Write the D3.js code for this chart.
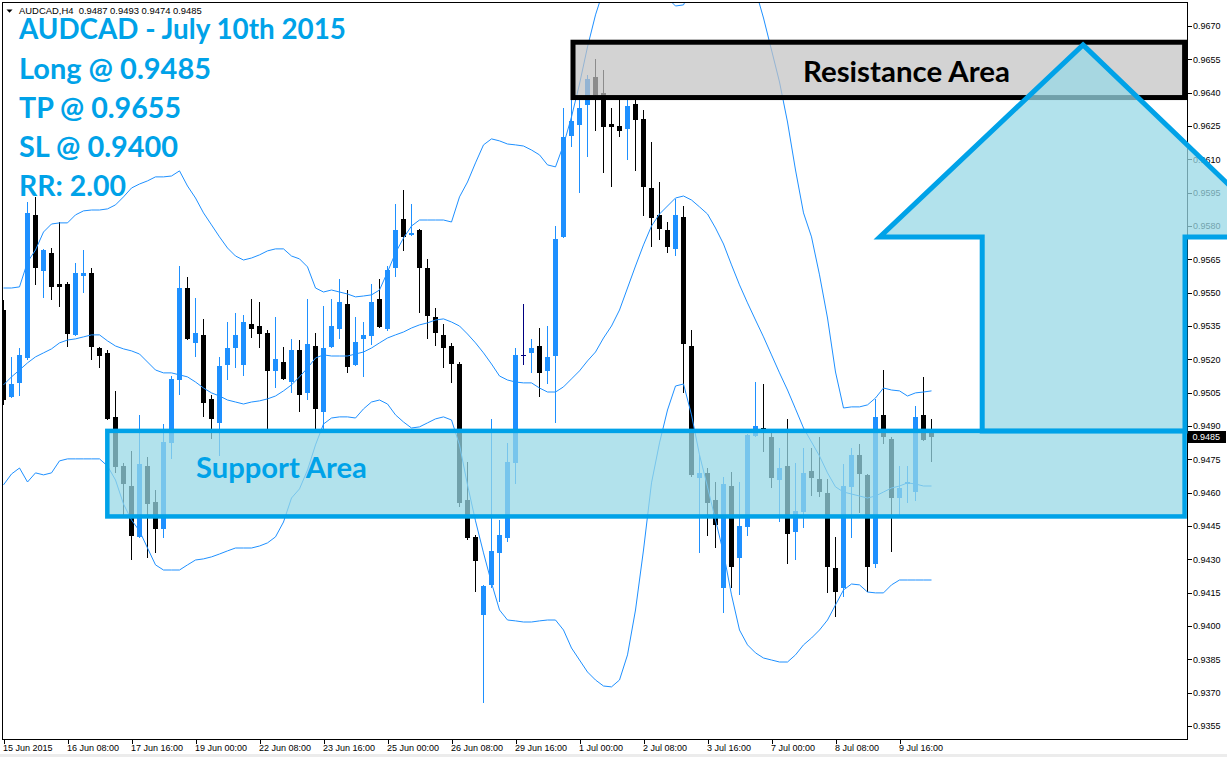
<!DOCTYPE html>
<html><head><meta charset="utf-8">
<script src="https://cdn.jsdelivr.net/npm/d3@7"></script>
<style>body{margin:0;background:#fff;overflow:hidden}svg{display:block}</style>
</head><body>
<svg id="c" width="1227" height="757"></svg>
<script>
// ---------------- DATA ----------------
const symbolInfo = "AUDCAD,H4";
const lastQuote = [0.9487, 0.9493, 0.9474, 0.9485]; // O H L C of current bar
const titleLines = ["AUDCAD - July 10th 2015", "Long @ 0.9485", "TP @ 0.9655", "SL @ 0.9400", "RR: 2.00"];

const openP = [0.95422,0.95031,0.95094,0.95206,0.95850,0.95598,0.95679,0.95539,0.95539,0.95310,
0.95575,0.95589,0.95251,0.95229,0.94941,0.94720,0.94630,0.94401,0.94720,0.94558,
0.94437,0.94824,0.95107,0.95521,0.95274,0.95310,0.95022,0.94914,0.95175,0.95251,
0.95175,0.95359,0.95350,0.95319,0.95148,0.95188,0.95098,0.95242,0.95049,0.95260,
0.94963,0.95256,0.95337,0.95449,0.95175,0.95292,0.95305,0.95472,0.95337,0.95611,
0.95832,0.95760,0.95782,0.95611,0.95391,0.95310,0.95260,0.95179,0.94567,0.94401,
0.94050,0.94184,0.94329,0.94396,0.94734,0.95220,0.95229,0.95260,0.95148,0.95215,
0.95751,0.96205,0.96255,0.96345,0.96471,0.96399,0.96259,0.96250,0.96237,0.96349,
0.96282,0.95971,0.95850,0.95782,0.95697,0.95841,0.95260,0.94666,0.94689,0.94567,
0.94171,0.94630,0.94306,0.94446,0.94855,0.94891,0.94851,0.94657,0.94720,0.94423,
0.94513,0.94698,0.94662,0.94599,0.94261,0.94171,0.94626,0.94770,0.94680,0.94279,
0.94950,0.94842,0.94576,0.94639,0.94603,0.94950,0.94870];
const highP = [0.95467,0.95211,0.95251,0.95908,0.95931,0.95695,0.95701,0.95818,0.95548,0.95634,
0.95692,0.95611,0.95255,0.95242,0.95058,0.94734,0.94788,0.94950,0.94761,0.94612,
0.94909,0.95125,0.95620,0.95571,0.95476,0.95382,0.95040,0.95211,0.95368,0.95409,
0.95400,0.95472,0.95458,0.95332,0.95391,0.95256,0.95292,0.95287,0.95472,0.95319,
0.95440,0.95472,0.95562,0.95512,0.95391,0.95368,0.95539,0.95562,0.95620,0.95899,
0.95962,0.95899,0.95787,0.95652,0.95431,0.95359,0.95274,0.95188,0.94738,0.94410,
0.94185,0.94932,0.94477,0.94824,0.95251,0.95449,0.95292,0.95341,0.95350,0.95800,
0.96331,0.96390,0.96367,0.96480,0.96552,0.96502,0.96331,0.96367,0.96367,0.96367,
0.96322,0.96178,0.95998,0.95818,0.95922,0.95890,0.95332,0.94770,0.94711,0.94648,
0.94671,0.94693,0.94648,0.94864,0.95098,0.95089,0.94869,0.94801,0.94932,0.94734,
0.94801,0.94801,0.94851,0.94662,0.94401,0.94729,0.94801,0.94819,0.94684,0.95022,
0.95152,0.94851,0.94720,0.94720,0.94990,0.95121,0.94930];
const lowP = [0.94995,0.95028,0.95035,0.95197,0.95535,0.95476,0.95467,0.95436,0.95256,0.95305,
0.95499,0.95197,0.95161,0.94927,0.94689,0.94491,0.94297,0.94396,0.94306,0.94329,
0.94396,0.94752,0.95040,0.95287,0.95211,0.94941,0.94842,0.94765,0.95107,0.95161,
0.95125,0.95296,0.95251,0.94887,0.95071,0.95107,0.95049,0.94963,0.95017,0.94869,
0.94882,0.95251,0.95292,0.95139,0.95170,0.95121,0.95265,0.95341,0.95328,0.95571,
0.95688,0.95755,0.95409,0.95292,0.95260,0.95161,0.95094,0.94536,0.94387,0.94153,
0.93654,0.94171,0.94108,0.94378,0.94639,0.95175,0.95139,0.95031,0.95089,0.94914,
0.95746,0.96156,0.95949,0.96111,0.96228,0.96039,0.95976,0.96201,0.96097,0.96048,
0.95845,0.95706,0.95737,0.95679,0.95665,0.95049,0.94671,0.94329,0.94405,0.94351,
0.94059,0.94171,0.94140,0.94405,0.94851,0.94783,0.94621,0.94468,0.94279,0.94297,
0.94441,0.94585,0.94581,0.94149,0.94041,0.94131,0.94396,0.94509,0.94153,0.94261,
0.94819,0.94333,0.94500,0.94554,0.94563,0.94833,0.94740];
const closeP = [0.95017,0.95089,0.95220,0.95859,0.95611,0.95692,0.95526,0.95526,0.95314,0.95589,
0.95589,0.95256,0.95215,0.94932,0.94716,0.94639,0.94405,0.94729,0.94549,0.94437,
0.94828,0.95112,0.95521,0.95292,0.95319,0.95004,0.94932,0.95170,0.95251,0.95310,
0.95368,0.95337,0.95314,0.95148,0.95202,0.95112,0.95242,0.95040,0.95269,0.94977,
0.95251,0.95350,0.95458,0.95166,0.95278,0.95310,0.95458,0.95346,0.95602,0.95782,
0.95751,0.95769,0.95611,0.95395,0.95319,0.95251,0.95179,0.94554,0.94396,0.94293,
0.94180,0.94338,0.94410,0.94738,0.95220,0.95220,0.95251,0.95139,0.95211,0.95742,
0.96201,0.96273,0.96331,0.96462,0.96390,0.96246,0.96246,0.96228,0.96340,0.96277,
0.95976,0.95836,0.95787,0.95706,0.95850,0.95269,0.94680,0.94689,0.94554,0.94455,
0.94639,0.94266,0.94450,0.94860,0.94900,0.94887,0.94666,0.94711,0.94414,0.94518,
0.94689,0.94666,0.94603,0.94266,0.94153,0.94630,0.94770,0.94684,0.94266,0.94941,
0.94851,0.94576,0.94621,0.94648,0.94941,0.94837,0.94850];

const bbUpper = [0.95521,0.95521,0.95526,0.95638,0.95692,0.95773,0.95809,0.95814,0.95814,0.95850,
0.95868,0.95872,0.95872,0.95877,0.95895,0.95931,0.95971,0.95989,0.96003,0.96021,
0.96021,0.96025,0.96048,0.95980,0.95926,0.95859,0.95805,0.95751,0.95701,0.95665,
0.95647,0.95656,0.95670,0.95688,0.95697,0.95697,0.95665,0.95652,0.95616,0.95521,
0.95503,0.95512,0.95503,0.95494,0.95481,0.95485,0.95490,0.95512,0.95593,0.95679,
0.95746,0.95800,0.95827,0.95827,0.95827,0.95827,0.95818,0.95931,0.95998,0.96084,
0.96165,0.96192,0.96183,0.96169,0.96165,0.96160,0.96142,0.96120,0.96075,0.96066,
0.96165,0.96291,0.96439,0.96606,0.96750,0.96862,0.96975,0.97087,0.97173,0.97168,
0.97087,0.96957,0.96885,0.96826,0.96790,0.96795,0.96871,0.97002,0.97083,0.97105,
0.97110,0.97110,0.97087,0.96993,0.96862,0.96736,0.96592,0.96448,0.96268,0.96052,
0.95859,0.95751,0.95580,0.95386,0.95143,0.94981,0.94986,0.94986,0.94995,0.95026,
0.95071,0.95062,0.95058,0.95035,0.95049,0.95053,0.95058];
const bbMiddle = [0.95085,0.95121,0.95152,0.95184,0.95211,0.95229,0.95247,0.95274,0.95287,0.95292,
0.95301,0.95310,0.95310,0.95283,0.95260,0.95247,0.95238,0.95224,0.95188,0.95152,
0.95139,0.95139,0.95130,0.95121,0.95098,0.95071,0.95049,0.95035,0.95017,0.95008,
0.94999,0.95008,0.95013,0.95022,0.95035,0.95058,0.95085,0.95121,0.95161,0.95206,
0.95220,0.95215,0.95215,0.95215,0.95224,0.95233,0.95251,0.95274,0.95296,0.95310,
0.95323,0.95341,0.95355,0.95364,0.95377,0.95382,0.95368,0.95350,0.95314,0.95274,
0.95229,0.95179,0.95125,0.95107,0.95098,0.95094,0.95094,0.95071,0.95053,0.95053,
0.95076,0.95112,0.95148,0.95193,0.95233,0.95296,0.95350,0.95422,0.95521,0.95620,
0.95715,0.95800,0.95854,0.95890,0.95926,0.95935,0.95917,0.95886,0.95854,0.95791,
0.95719,0.95625,0.95535,0.95454,0.95377,0.95301,0.95220,0.95139,0.95062,0.94977,
0.94891,0.94828,0.94765,0.94689,0.94626,0.94603,0.94594,0.94585,0.94576,0.94585,
0.94603,0.94621,0.94630,0.94644,0.94639,0.94630,0.94630];
const bbLower = [0.94635,0.94684,0.94711,0.94648,0.94689,0.94680,0.94689,0.94743,0.94752,0.94752,
0.94752,0.94752,0.94752,0.94720,0.94657,0.94549,0.94477,0.94428,0.94351,0.94275,
0.94252,0.94252,0.94252,0.94275,0.94297,0.94302,0.94311,0.94324,0.94338,0.94351,
0.94351,0.94351,0.94360,0.94374,0.94401,0.94468,0.94576,0.94617,0.94702,0.94815,
0.94909,0.94936,0.94941,0.94941,0.94936,0.94977,0.95008,0.95017,0.94999,0.94950,
0.94918,0.94891,0.94896,0.94914,0.94932,0.94941,0.94927,0.94815,0.94635,0.94473,
0.94329,0.94194,0.94072,0.94027,0.94023,0.94018,0.94018,0.94023,0.94027,0.94027,
0.93982,0.93901,0.93847,0.93793,0.93757,0.93730,0.93726,0.93757,0.93870,0.94072,
0.94342,0.94644,0.94824,0.94972,0.95080,0.95089,0.94950,0.94770,0.94626,0.94477,
0.94329,0.94140,0.93982,0.93915,0.93879,0.93856,0.93847,0.93838,0.93838,0.93870,
0.93915,0.93946,0.93982,0.94027,0.94095,0.94162,0.94189,0.94185,0.94153,0.94149,
0.94149,0.94185,0.94207,0.94207,0.94207,0.94207,0.94207];

const dateLabels = ["15 Jun 2015","16 Jun 08:00","17 Jun 16:00","19 Jun 00:00","22 Jun 08:00",
"23 Jun 16:00","25 Jun 00:00","26 Jun 08:00","29 Jun 16:00","1 Jul 00:00","2 Jul 08:00",
"3 Jul 16:00","7 Jul 00:00","8 Jul 08:00","9 Jul 16:00"];
const dateLabelBar = [0,8,16,24,32,40,48,56,64,72,80,88,96,104,112];
const priceTicks = [0.9670,0.9655,0.9640,0.9625,0.9610,0.9595,0.9580,0.9565,0.9550,0.9535,0.9520,
0.9505,0.9490,0.9475,0.9460,0.9445,0.9430,0.9415,0.9400,0.9385,0.9370,0.9355];

// annotation objects (bar index / price)
const supportZone = {bar0: 13.04, bar1: 147.7, top: 0.94878, bottom: 0.94493, label: "Support Area"};
const resistanceZone = {bar0: 71.25, bar1: 147.7, top: 0.96627, bottom: 0.96378, label: "Resistance Area"};
const arrowPts = [[135,0.96615],[160,0.95751],[147.75,0.95751],[147.75,0.94878],[122.4,0.94878],[122.4,0.95751],[109.6,0.95751]];

// ---------------- DRAW ----------------
const svg = d3.select("#c");
const W = 1227, H = 757;
const L = 3, R = 1187, T = 3, B = 739;
const xs = d3.scaleLinear().domain([0, 148]).range([3, 1187]);
const ys = d3.scaleLinear().domain([0.9355, 0.9670]).range([726, 26]);
const BLUE = "#00a2e8";
const BULL = "#1e90ff";

svg.append("rect").attr("width", W).attr("height", H).attr("fill", "#fff");
svg.append("rect").attr("x", 0).attr("y", 754).attr("width", W).attr("height", 3).attr("fill", "#ececec");

const defs = svg.append("defs");
defs.append("clipPath").attr("id", "plot").append("rect")
  .attr("x", L).attr("y", T).attr("width", R - L).attr("height", B - T);

const plot = svg.append("g").attr("clip-path", "url(#plot)");

// candles
const bars = d3.range(openP.length);
const cg = plot.append("g").attr("shape-rendering", "crispEdges");
bars.forEach(i => {
  const o = openP[i], c = closeP[i], h = highP[i], l = lowP[i];
  const col = c > o ? BULL : (c < o ? "#000" : "#000080");
  const x = Math.round(xs(i));
  cg.append("rect").attr("x", x).attr("width", 1)
    .attr("y", Math.round(ys(h))).attr("height", Math.max(1, Math.round(ys(l)) - Math.round(ys(h))))
    .attr("fill", col);
  const yt = Math.round(ys(Math.max(o, c))), yb = Math.round(ys(Math.min(o, c)));
  cg.append("rect").attr("x", x - 2).attr("width", 5).attr("y", yt)
    .attr("height", c === o ? 1 : Math.max(1, yb - yt)).attr("fill", col);
});

// bollinger bands
const line = d3.line().x((d, i) => xs(i) + 0.5).y(d => ys(d));
[bbUpper, bbMiddle, bbLower].forEach(arr => {
  plot.append("path").datum(arr).attr("d", line).attr("fill", "none")
    .attr("stroke", BULL).attr("stroke-width", 1);
});

// resistance zone
const ov = svg.append("g").attr("clip-path", "url(#plot)");
ov.append("rect")
  .attr("x", xs(resistanceZone.bar0)).attr("y", ys(resistanceZone.top))
  .attr("width", xs(resistanceZone.bar1) - xs(resistanceZone.bar0))
  .attr("height", ys(resistanceZone.bottom) - ys(resistanceZone.top))
  .attr("fill", "rgba(194,194,194,0.72)").attr("stroke", "#000").attr("stroke-width", 5);

// support zone
ov.append("rect")
  .attr("x", xs(supportZone.bar0)).attr("y", ys(supportZone.top))
  .attr("width", xs(supportZone.bar1) - xs(supportZone.bar0))
  .attr("height", ys(supportZone.bottom) - ys(supportZone.top))
  .attr("fill", "rgba(151,216,230,0.74)").attr("stroke", BLUE).attr("stroke-width", 4.5);

function fit(sel, target) {
  const w = sel.node().getComputedTextLength();
  const fs = parseFloat(sel.attr("font-size"));
  sel.attr("font-size", (fs * target / w).toFixed(2));
}
const bigFont = "Lato, 'Open Sans', sans-serif";

const rt = svg.append("text").attr("x", 803).attr("y", 81.5)
  .attr("font-family", bigFont).attr("font-weight", 700).attr("font-size", 27)
  .attr("fill", "#000").text(resistanceZone.label);
fit(rt, 207);
const st = svg.append("text").attr("x", 196).attr("y", 478)
  .attr("font-family", bigFont).attr("font-weight", 700).attr("font-size", 26)
  .attr("fill", BLUE).text(supportZone.label);
fit(st, 171);

// frame
svg.append("rect").attr("x", 2.5).attr("y", 2.5).attr("width", R - 2.5).attr("height", B - 2.5)
  .attr("fill", "none").attr("stroke", "#000").attr("stroke-width", 1).attr("shape-rendering", "crispEdges");

// y axis
const yAxis = d3.axisRight(ys).tickValues(priceTicks).tickFormat(d3.format(".4f")).tickSize(4).tickPadding(2);
const yg = svg.append("g").attr("transform", `translate(${R + 0.5},0)`).call(yAxis);
yg.select(".domain").remove();
yg.selectAll(".tick line").attr("stroke", "#000").attr("shape-rendering", "crispEdges");
yg.selectAll(".tick text").attr("font-family", "'Liberation Sans', Arial, sans-serif")
  .attr("font-size", 9).attr("fill", "#000").attr("x", 5.5);

// x axis
const xAxis = d3.axisBottom(xs).tickValues(dateLabelBar).tickFormat((d, i) => dateLabels[i]).tickSize(4);
const xg = svg.append("g").attr("transform", `translate(0.5,${B + 0.5})`).call(xAxis);
xg.select(".domain").remove();
xg.selectAll(".tick line").attr("stroke", "#000").attr("shape-rendering", "crispEdges");
xg.selectAll(".tick text").attr("font-family", "'Liberation Sans', Arial, sans-serif")
  .attr("font-size", 9).attr("fill", "#000").attr("text-anchor", "start")
  .attr("x", -1).attr("y", 11.5).attr("dy", 0);

// current price label
const lastY = ys(lastQuote[3]);
svg.append("rect").attr("x", 1188).attr("y", Math.round(lastY) - 6).attr("width", 38).attr("height", 12).attr("fill", "#000");
svg.append("text").attr("x", 1192.5).attr("y", lastY + 3.3)
  .attr("font-family", "'Liberation Sans', Arial, sans-serif").attr("font-size", 9).attr("fill", "#fff")
  .text(d3.format(".4f")(lastQuote[3]));

// arrow
svg.append("path")
  .attr("d", d3.line().x(d => xs(d[0])).y(d => ys(d[1])).curve(d3.curveLinearClosed)(arrowPts))
  .attr("fill", "rgba(151,216,230,0.74)").attr("stroke", BLUE).attr("stroke-width", 5)
  .attr("stroke-linejoin", "miter");

// header info line
svg.append("path").attr("d", "M6.5,9.5 L12.5,9.5 L9.5,12.8 Z").attr("fill", "#000");
const info = svg.append("text").attr("x", 19).attr("y", 13.5)
  .attr("font-family", "'Liberation Sans', Arial, sans-serif").attr("font-size", 9).attr("fill", "#000")
  .attr("xml:space", "preserve")
  .text(symbolInfo + "  " + lastQuote.map(d3.format(".4f")).join(" "));
fit(info, 183);

// title lines
const baselines = [39.3, 78.5, 118, 157, 195.5];
const targets = [327, 192, 162, 159, 107];
const tsel = titleLines.map((t, i) => svg.append("text").attr("x", 19).attr("y", baselines[i])
  .attr("font-family", bigFont).attr("font-weight", 700).attr("font-size", 26)
  .attr("fill", BLUE).text(t));
const measured = d3.sum(tsel, s => s.node().getComputedTextLength());
const k = d3.sum(targets) / measured;
tsel.forEach((s, i) => s.attr("font-size", (26 * k).toFixed(2))
  .attr("textLength", targets[i]).attr("lengthAdjust", "spacingAndGlyphs"));
</script>
</body></html>
